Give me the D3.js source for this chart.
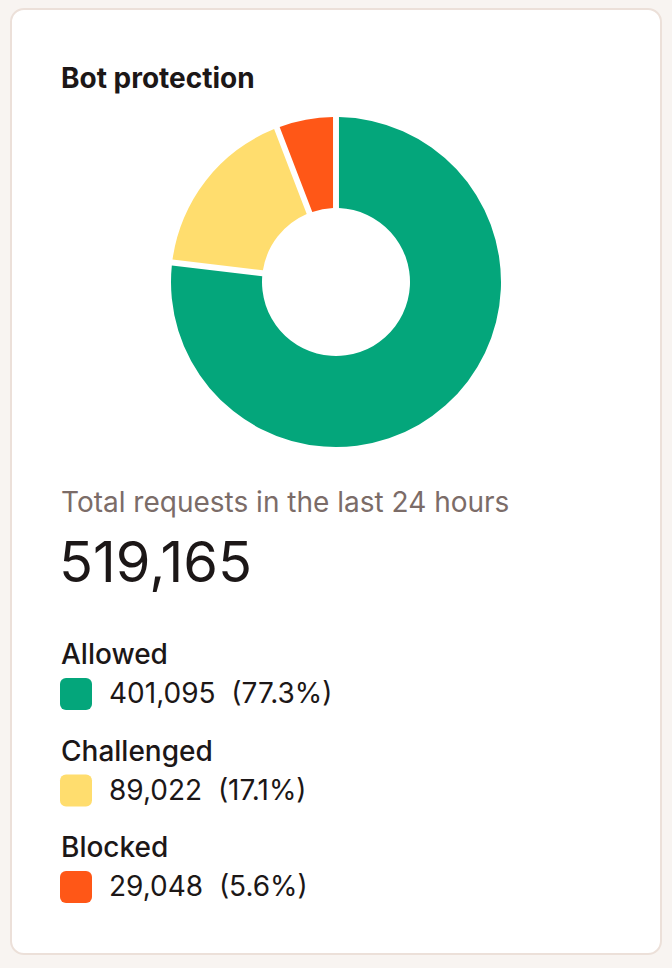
<!DOCTYPE html>
<html><head><meta charset="utf-8">
<script src="https://cdn.jsdelivr.net/npm/d3@7"></script>
<style>
html,body{margin:0;padding:0;background:#f8f4f1;}
svg{display:block;}
text{font-family:Inter,"Noto Sans",sans-serif;}
</style></head>
<body>
<script>
const categories = ["Allowed", "Challenged", "Blocked"];
const values = [401095, 89022, 29048];
const percents = ["77.3%", "17.1%", "5.6%"];
const colors = ["#04a67b", "#ffdd6e", "#ff5717"];
const title = "Bot protection";
const subtitle = "Total requests in the last 24 hours";

const W = 672, H = 968;
const svg = d3.select("body").append("svg").attr("width", W).attr("height", H);

svg.append("rect").attr("x", 11).attr("y", 9).attr("width", 650).attr("height", 945)
  .attr("rx", 13).attr("fill", "#fff").attr("stroke", "#ece0d9").attr("stroke-width", 2);

svg.append("text").attr("x", 61).attr("y", 88).attr("font-size", 28).attr("font-weight", 700)
  .attr("fill", "#1c1717").text(title);

const cx = 336, cy = 282, rOuter = 165, rInner = 74;
const pie = d3.pie().sort(null).value(d => d).padAngle(0.018);
const arc = d3.arc().innerRadius(rInner).outerRadius(rOuter).padRadius(330);
const g = svg.append("g").attr("transform", `translate(${cx},${cy})`);
g.selectAll("path").data(pie(values)).join("path")
  .attr("d", arc).attr("fill", (d, i) => colors[i]);

svg.append("text").attr("x", 61).attr("y", 512).attr("font-size", 28)
  .attr("fill", "#7b6c68").text(subtitle);

const total = d3.sum(values);
svg.append("text").attr("x", 59).attr("y", 582).attr("font-size", 56)
  .attr("fill", "#1c1717").text(d3.format(",")(total));

const leg = svg.append("g");
const rows = leg.selectAll("g").data(categories).join("g")
  .attr("transform", (d, i) => `translate(61,${664 + i * 96.5})`);
rows.append("text").attr("font-size", 28).attr("font-weight", 500).attr("fill", "#1c1717")
  .text(d => d);
rows.append("rect").attr("x", -1).attr("y", 14).attr("width", 32).attr("height", 32).attr("rx", 6)
  .attr("fill", (d, i) => colors[i]);
rows.append("text").attr("x", 48).attr("y", 39).attr("font-size", 28).attr("fill", "#1c1717")
  .attr("xml:space", "preserve").style("white-space", "pre")
  .text((d, i) => `${d3.format(",")(values[i])}  (${percents[i]})`);
</script>
</body></html>
